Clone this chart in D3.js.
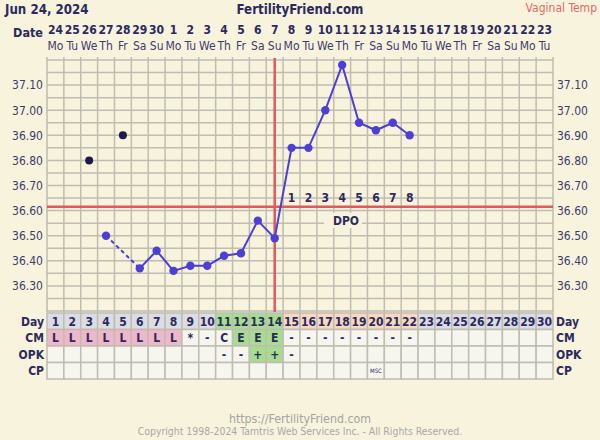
<!DOCTYPE html>
<html><head><meta charset="utf-8">
<script src="https://cdn.jsdelivr.net/npm/d3@7/dist/d3.min.js"></script>
<style>
html,body{margin:0;padding:0;background:#f8f3dc;}
svg{display:block;font-family:"DejaVu Sans Condensed","DejaVu Sans",sans-serif;}
</style></head><body>
<svg id="c" width="600" height="440"></svg>
<script>
// ---- data ----
const cycleDays = d3.range(1, 31);
const dateLabels = ["24","25","26","27","28","29","30","1","2","3","4","5","6","7","8","9","10","11","12","13","14","15","16","17","18","19","20","21","22","23"];
const dowLabels = ["Mo","Tu","We","Th","Fr","Sa","Su","Mo","Tu","We","Th","Fr","Sa","Su","Mo","Tu","We","Th","Fr","Sa","Su","Mo","Tu","We","Th","Fr","Sa","Su","Mo","Tu"];
const tempDays  = [4, 6, 7, 8, 9, 10, 11, 12, 13, 14, 15, 16, 17, 18, 19, 20, 21, 22];
const tempVals  = [36.50, 36.37, 36.44, 36.36, 36.38, 36.38, 36.42, 36.43, 36.56, 36.49, 36.85, 36.85, 37.00, 37.18, 36.95, 36.92, 36.95, 36.90];
const discardDays = [3, 5];
const discardVals = [36.80, 36.90];
const yTicks = [36.30, 36.40, 36.50, 36.60, 36.70, 36.80, 36.90, 37.00, 37.10];
const coverline = 36.615;
const ovulationDay = 14;
const dpoDays = [15, 16, 17, 18, 19, 20, 21, 22];
const dpoLabels = ["1","2","3","4","5","6","7","8"];
const cmValues = ["L","L","L","L","L","L","L","L","*","-","C","E","E","E","-","-","-","-","-","-","-","-","","","","","","","",""];
const opkValues = ["","","","","","","","","","","-","-","+","+","-","","","","","","","","","","","","","","",""];
const cpValues  = ["","","","","","","","","","","","","","","","","","","","MSC","","","","","","","","","",""];
const rowLabels = ["Day","CM","OPK","CP"];

// ---- drawing ----
const svg = d3.select("#c");
const ink = "#2b2a5f";
const gridCol = "#bfbdb2";
const x = d3.scaleBand().domain(cycleDays).range([47, 553]).padding(0);
const cx = d => x(d) + x.bandwidth() / 2;
const y = d3.scaleLinear().domain([36.2, 37.2]).range([311, 60]);

// header
svg.append("text").attr("x", 5).attr("y", 14).attr("font-size", 13.2).attr("font-weight", "bold").attr("fill", ink).text("Jun 24, 2024");
svg.append("text").attr("x", 300).attr("y", 14).attr("text-anchor", "middle").attr("font-size", 13.2).attr("font-weight", "bold").attr("fill", ink).text("FertilityFriend.com");
svg.append("text").attr("x", 597).attr("y", 12).attr("text-anchor", "end").attr("font-size", 12).attr("fill", "#e06a6a").text("Vaginal Temp");
svg.append("text").attr("x", 43).attr("y", 37).attr("text-anchor", "end").attr("font-size", 12.5).attr("font-weight", "bold").attr("fill", ink).text("Date");
svg.append("g").selectAll("text").data(cycleDays).join("text")
  .attr("x", d => cx(d)).attr("y", 34).attr("text-anchor", "middle").attr("font-size", 12).attr("font-weight", "bold").attr("fill", ink)
  .text((d, i) => dateLabels[i]);
svg.append("g").selectAll("text").data(cycleDays).join("text")
  .attr("x", d => cx(d)).attr("y", 50).attr("text-anchor", "middle").attr("font-size", 12).attr("fill", "#3d3c6e")
  .text((d, i) => dowLabels[i]);

// grid
const grid = svg.append("g").attr("stroke", gridCol).attr("stroke-width", 1.5);
const minor = d3.range(0, 21).map(i => 36.2 + i * 0.05);
grid.selectAll("line.h").data(minor).join("line").attr("class", "h")
  .attr("x1", 47).attr("x2", 553).attr("y1", d => y(d)).attr("y2", d => y(d));
grid.selectAll("line.v").data(d3.range(0, 31)).join("line").attr("class", "v")
  .attr("x1", i => 47 + i * x.bandwidth()).attr("x2", i => 47 + i * x.bandwidth())
  .attr("y1", 57).attr("y2", 312);

// y axes
const axL = d3.axisLeft(y).tickValues(yTicks).tickFormat(d3.format(".2f")).tickSize(0).tickPadding(4);
const gL = svg.append("g").attr("transform", "translate(47,0)").call(axL);
const axR = d3.axisRight(y).tickValues(yTicks).tickFormat(d3.format(".2f")).tickSize(0).tickPadding(4);
const gR = svg.append("g").attr("transform", "translate(553,0)").call(axR);
[gL, gR].forEach(g => {
  g.select(".domain").remove();
  g.selectAll("text").attr("font-size", 12).attr("fill", "#3d3c6e").attr("font-family", null);
  g.attr("font-family", null);
});

// coverline & ovulation line
svg.append("line").attr("x1", 47).attr("x2", 553).attr("y1", y(coverline)).attr("y2", y(coverline))
  .attr("stroke", "#e05a5a").attr("stroke-width", 2.5);
svg.append("line").attr("x1", cx(ovulationDay)).attr("x2", cx(ovulationDay)).attr("y1", 58).attr("y2", 312)
  .attr("stroke", "#e05a5a").attr("stroke-width", 2.5);

// DPO labels
svg.append("g").selectAll("text").data(dpoDays).join("text")
  .attr("x", d => cx(d)).attr("y", y(coverline) - 5).attr("text-anchor", "middle").attr("font-size", 12).attr("font-weight", "bold").attr("fill", ink)
  .text((d, i) => dpoLabels[i]);
svg.append("rect").attr("x", 324).attr("y", 213).attr("width", 38).attr("height", 15).attr("fill", "#f8f3dc");
svg.append("text").attr("x", 346).attr("y", 225).attr("text-anchor", "middle").attr("font-size", 12).attr("font-weight", "bold").attr("fill", ink).text("DPO");

// temps
const pts = tempDays.map((d, i) => [d, tempVals[i]]);
const line = d3.line().x(p => cx(p[0])).y(p => y(p[1]));
const blue = "#4c3fd6";
svg.append("path").attr("d", line(pts.slice(0, 2))).attr("fill", "none").attr("stroke", blue).attr("stroke-width", 2).attr("stroke-dasharray", "4,3");
svg.append("path").attr("d", line(pts.slice(1))).attr("fill", "none").attr("stroke", blue).attr("stroke-width", 2);
svg.append("g").selectAll("circle").data(pts).join("circle")
  .attr("cx", p => cx(p[0])).attr("cy", p => y(p[1])).attr("r", 4.2).attr("fill", blue);
svg.append("g").selectAll("circle").data(discardDays).join("circle")
  .attr("cx", d => cx(d)).attr("cy", (d, i) => y(discardVals[i])).attr("r", 4).attr("fill", "#1e1b4b");

// table
const rowY = [313, 329.5, 346, 362.5, 379];
const dayFill = d => d >= 11 && d <= 14 ? "#a6dd8e" : (d >= 15 && d <= 22 ? "#f9d8c0" : "#dcdce4");
const rows = [
  {vals: cycleDays.map(String), fill: (d) => dayFill(d), size: 12},
  {vals: cmValues, fill: (d, v) => v === "L" ? "#f0b6ca" : (v === "E" ? "#a6dd8e" : "#f6f5ee"), size: 12},
  {vals: opkValues, fill: (d, v) => v === "+" ? "#a6dd8e" : "#f6f5ee", size: 12},
  {vals: cpValues, fill: () => "#f6f5ee", size: 6}
];
rows.forEach((r, ri) => {
  const g = svg.append("g");
  g.selectAll("rect").data(cycleDays).join("rect")
    .attr("x", d => x(d)).attr("y", rowY[ri]).attr("width", x.bandwidth()).attr("height", rowY[ri + 1] - rowY[ri])
    .attr("fill", (d, i) => r.fill(d, r.vals[i])).attr("stroke", gridCol).attr("stroke-width", 1.5);
  g.selectAll("text").data(cycleDays).join("text")
    .attr("x", d => cx(d)).attr("y", (rowY[ri] + rowY[ri + 1]) / 2 + (r.size > 8 ? 4.5 : 2))
    .attr("text-anchor", "middle").attr("font-size", r.size).attr("font-weight", r.size > 8 ? "bold" : "normal").attr("fill", ink)
    .text((d, i) => r.vals[i]);
  svg.append("text").attr("x", 44).attr("y", (rowY[ri] + rowY[ri + 1]) / 2 + 4.5).attr("text-anchor", "end")
    .attr("font-size", 12).attr("font-weight", "bold").attr("fill", ink).text(rowLabels[ri]);
  svg.append("text").attr("x", 556).attr("y", (rowY[ri] + rowY[ri + 1]) / 2 + 4.5).attr("text-anchor", "start")
    .attr("font-size", 12).attr("font-weight", "bold").attr("fill", ink).text(rowLabels[ri]);
});

// footer
svg.append("text").attr("x", 300).attr("y", 423).attr("text-anchor", "middle").attr("font-size", 12.3).attr("fill", "#a3a3a3").text("https://FertilityFriend.com");
svg.append("text").attr("x", 300).attr("y", 435).attr("text-anchor", "middle").attr("font-size", 10.4).attr("fill", "#a8a8a8").text("Copyright 1998-2024 Tamtris Web Services Inc. - All Rights Reserved.");
</script>
</body></html>
